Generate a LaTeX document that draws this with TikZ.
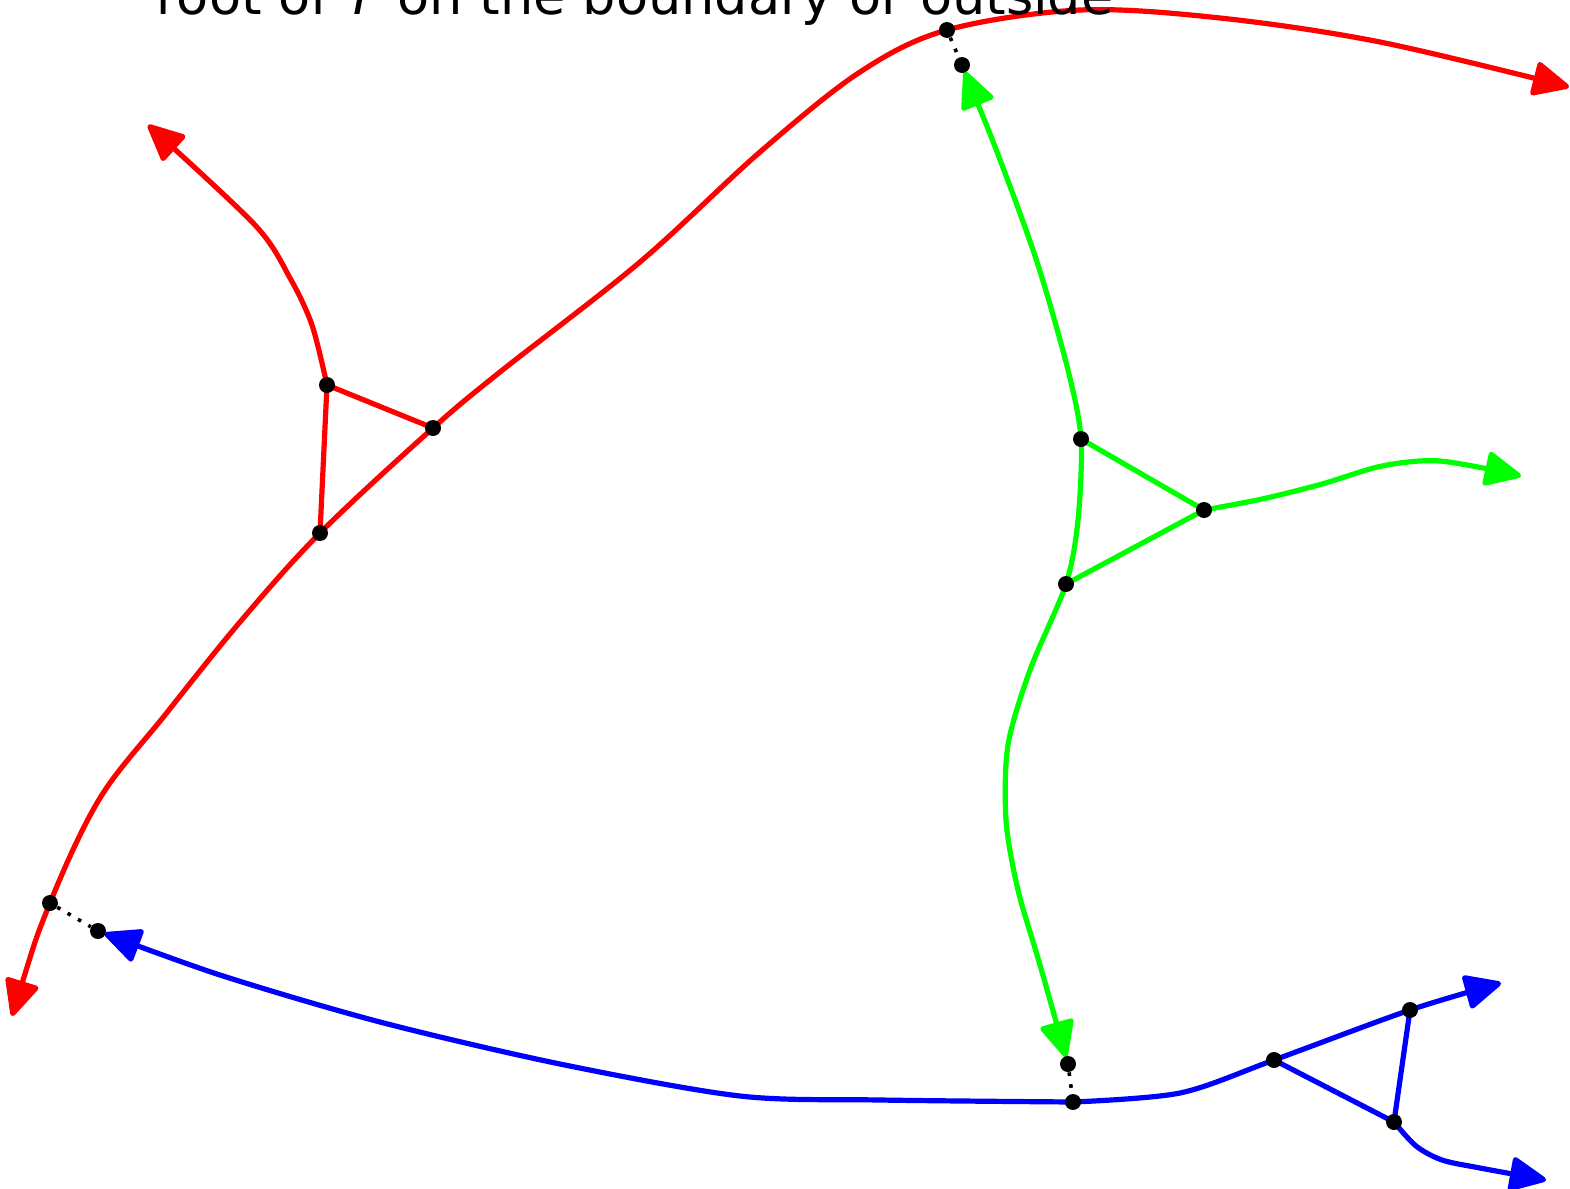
\documentclass[tikz,border=0pt]{standalone}
\usepackage{fontspec}
\setmainfont{DejaVu Sans}
\usetikzlibrary{arrows.meta}
\pgfdeclarelayer{background}
\pgfsetlayers{background,main}
\definecolor{gbright}{RGB}{0,255,0}
\definecolor{rbright}{RGB}{255,0,0}
\definecolor{bbright}{RGB}{0,0,255}
\tikzset{
  dot/.style={circle,fill=black,inner sep=0pt,minimum size=8pt},
  edge/.style={line width=2.6pt},
  tip/.style={-{Triangle[length=20pt,width=18pt,round]}},
  bitip/.style={{Triangle[length=20pt,width=18pt,round]}-{Triangle[length=20pt,width=18pt,round]}},
  link/.style={line width=1.8pt,dash pattern=on 1.8pt off 4.2pt,black},
}
\begin{document}
\begin{tikzpicture}[x=0.5pt,y=-0.5pt]
\useasboundingbox (0,0) rectangle (1570,1189);
% title
\node[anchor=base west,inner sep=0pt,font=\fontsize{26.25}{30}\selectfont] (title) at (156,14) {root of \textit{T} on the boundary or outside};
% red
\node[dot] (r1) at (50,903) {};
\node[dot] (r2) at (320,533) {};
\node[dot] (r3) at (433,428) {};
\node[dot] (r4) at (947,30) {};
\node[dot] (r5) at (327,385) {};
\coordinate (rA) at (12,1016);
\coordinate (rB) at (1569,87);
\coordinate (rC) at (148,125);
% green
\node[dot] (g1) at (1081,439) {};
\node[dot] (g2) at (1204,510) {};
\node[dot] (g3) at (1066,584) {};
\node[dot] (g4) at (962,65) {};
\node[dot] (g5) at (1068,1064) {};
\coordinate (gA) at (1521,476);
% blue
\node[dot] (b1) at (98,931) {};
\node[dot] (b2) at (1073,1102) {};
\node[dot] (b3) at (1274,1060) {};
\node[dot] (b4) at (1410,1010) {};
\node[dot] (b5) at (1394,1122) {};
\coordinate (bA) at (1501,983);
\coordinate (bB) at (1546,1180);
\begin{pgfonlayer}{background}
% red
\draw[edge,rbright,bitip] plot[smooth,tension=0.55] coordinates {(rA) (r1.center) (100,798) (165,715) (240,622) (r2.center) (r3.center) (500,372) (640,262) (760,152) (860,72) (r4.center) (1080,10) (1220,18) (1380,42) (rB)};
\draw[edge,rbright,tip] plot[smooth] coordinates {(r5.center) (312,325) (290,278) (255,225) (rC)};
\draw[edge,rbright] (r5.center) -- (r2.center);
\draw[edge,rbright] (r5.center) -- (r3.center);
% green
\draw[edge,gbright,bitip,shorten <=3.5pt,shorten >=3.5pt] plot[smooth] coordinates {(g4.center) (1002,165) (1038,265) (1068,370) (g1.center) (1078,520) (g3.center) (1030,670) (1008,745) (1006,820) (1018,890) (1040,965) (g5.center)};
\draw[edge,gbright,tip] plot[smooth] coordinates {(g2.center) (1262,499) (1322,484) (1382,466) (1440,461) (gA)};
\draw[edge,gbright] (g1.center) -- (g2.center);
\draw[edge,gbright] (g2.center) -- (g3.center);
% blue
\draw[edge,bbright,tip,shorten >=3.5pt] plot[smooth] coordinates {(b2.center) (880,1100) (740,1096) (560,1064) (380,1022) (220,975) (b1.center)};
\draw[edge,bbright,tip] plot[smooth] coordinates {(b2.center) (1180,1093) (b3.center) (b4.center) (bA)};
\draw[edge,bbright] (b3.center) -- (b5.center);
\draw[edge,bbright] (b4.center) -- (b5.center);
\draw[edge,bbright,tip] plot[smooth] coordinates {(b5.center) (1416,1146) (1442,1160) (1480,1168) (bB)};
% dotted links
\draw[link] (r4) -- (g4);
\draw[link] (r1) -- (b1);
\draw[link] (g5) -- (b2);
\end{pgfonlayer}
\end{tikzpicture}
\end{document}
